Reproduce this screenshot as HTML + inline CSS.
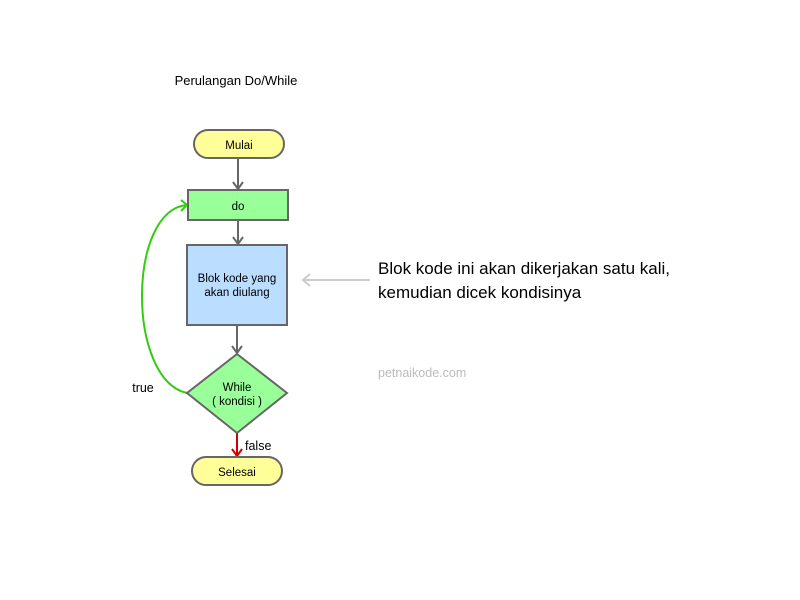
<!DOCTYPE html>
<html><head><style>body{margin:0;background:#fff}svg{display:block}</style></head><body>
<svg width="800" height="600" viewBox="0 0 800 600" xmlns="http://www.w3.org/2000/svg" font-family="Liberation Sans, sans-serif">
<text x="236" y="85" font-size="13" text-anchor="middle" fill="#000">Perulangan Do/While</text>
<g stroke="#666" stroke-width="2" fill="none">
<line x1="238" y1="158" x2="238" y2="189"/><polyline points="233,182 238,189 243,182"/>
<line x1="238" y1="221" x2="238" y2="244"/><polyline points="233,237 238,244 243,237"/>
<line x1="237" y1="325" x2="237" y2="353"/><polyline points="232,346 237,353 242,346"/>
</g>
<line x1="237" y1="433" x2="237" y2="456" stroke="#c00" stroke-width="2"/>
<polyline points="232,449 237,456 242,449" stroke="#c00" stroke-width="2" fill="none"/>
<path d="M187,393 C127,380 127,210 187,205" stroke="#33cc11" stroke-width="2" fill="none"/>
<polyline points="181,200 187,205 181,211" stroke="#33cc11" stroke-width="2" fill="none"/>
<line x1="370" y1="280" x2="303" y2="280" stroke="#ccc" stroke-width="2"/>
<polyline points="310,274 303,280 310,286" stroke="#ccc" stroke-width="2" fill="none"/>
<rect x="194" y="130" width="90" height="28" rx="14" fill="#ffff99" stroke="#666" stroke-width="2"/>
<text x="239" y="149" font-size="11.5" text-anchor="middle">Mulai</text>
<rect x="188" y="190" width="100" height="30" fill="#99ff99" stroke="#666" stroke-width="2"/>
<text x="238" y="210" font-size="11.5" text-anchor="middle">do</text>
<rect x="187" y="245" width="100" height="80" fill="#bbddff" stroke="#666" stroke-width="2"/>
<text x="237" y="282" font-size="11.5" text-anchor="middle">Blok kode yang</text>
<text x="237" y="296" font-size="11.5" text-anchor="middle">akan diulang</text>
<polygon points="237,354 287,393 237,433 187,393" fill="#99ff99" stroke="#666" stroke-width="2"/>
<text x="237" y="391" font-size="11.5" text-anchor="middle">While</text>
<text x="237" y="405" font-size="11.5" text-anchor="middle">( kondisi )</text>
<rect x="192" y="457" width="90" height="28" rx="14" fill="#ffff99" stroke="#666" stroke-width="2"/>
<text x="237" y="476" font-size="11.5" text-anchor="middle">Selesai</text>
<text x="143" y="392" font-size="12.5" text-anchor="middle">true</text>
<text x="245" y="450" font-size="12.5">false</text>
<text x="378" y="274" font-size="17">Blok kode ini akan dikerjakan satu kali,</text>
<text x="378" y="298" font-size="17">kemudian dicek kondisinya</text>
<text x="378" y="377" font-size="12.5" fill="#bbb">petnaikode.com</text>
</svg>
</body></html>
